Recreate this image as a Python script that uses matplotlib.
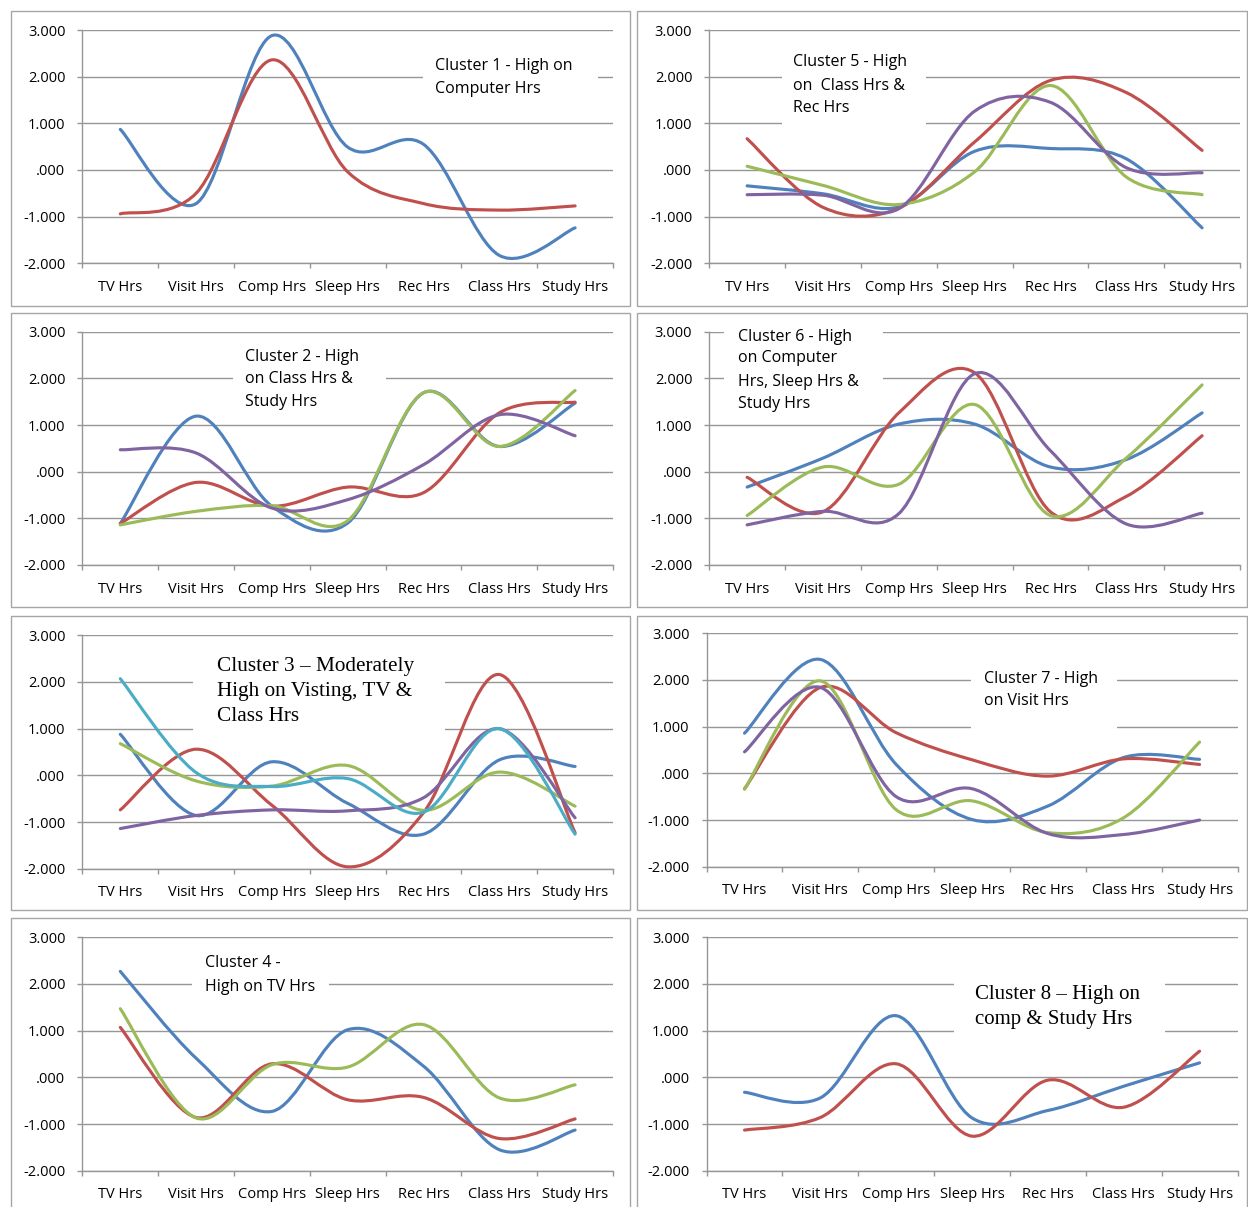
import matplotlib
matplotlib.use("Agg")
import matplotlib.pyplot as plt
from matplotlib.path import Path
from matplotlib.patches import PathPatch, Rectangle
import numpy as np

# ---------------- data ----------------
categories = ["TV Hrs", "Visit Hrs", "Comp Hrs", "Sleep Hrs", "Rec Hrs", "Class Hrs", "Study Hrs"]
y_ticks = [-2, -1, 0, 1, 2, 3]
y_tick_labels = ["-2.000", "-1.000", ".000", "1.000", "2.000", "3.000"]

c1_s1 = [0.87, -0.72, 2.88, 0.49, 0.55, -1.83, -1.24]
c1_s2 = [-0.94, -0.50, 2.36, -0.04, -0.72, -0.86, -0.77]

c2_s1 = [-1.11, 1.19, -0.74, -1.10, 1.69, 0.54, 1.47]
c2_s2 = [-1.11, -0.23, -0.74, -0.33, -0.45, 1.26, 1.49]
c2_s3 = [-1.14, -0.85, -0.73, -1.05, 1.69, 0.54, 1.74]
c2_s4 = [0.47, 0.40, -0.78, -0.60, 0.15, 1.22, 0.77]

c3_s1 = [0.88, -0.86, 0.29, -0.60, -1.26, 0.33, 0.19]
c3_s2 = [-0.74, 0.56, -0.64, -1.96, -0.80, 2.16, -1.23]
c3_s3 = [0.68, -0.12, -0.23, 0.21, -0.75, 0.07, -0.66]
c3_s4 = [-1.14, -0.86, -0.74, -0.76, -0.48, 1.00, -0.91]
c3_s5 = [2.07, 0.06, -0.24, -0.07, -0.79, 1.00, -1.26]

c4_s1 = [2.27, 0.41, -0.73, 1.02, 0.24, -1.55, -1.13]
c4_s2 = [1.07, -0.86, 0.29, -0.48, -0.43, -1.31, -0.89]
c4_s3 = [1.47, -0.87, 0.27, 0.22, 1.13, -0.44, -0.16]

c5_s1 = [-0.34, -0.51, -0.79, 0.40, 0.46, 0.24, -1.24]
c5_s2 = [0.67, -0.80, -0.82, 0.60, 1.92, 1.66, 0.42]
c5_s3 = [0.08, -0.33, -0.74, -0.04, 1.81, -0.15, -0.53]
c5_s4 = [-0.53, -0.54, -0.83, 1.26, 1.45, 0.05, -0.06]

c6_s1 = [-0.33, 0.29, 1.02, 1.02, 0.10, 0.26, 1.26]
c6_s2 = [-0.12, -0.86, 1.26, 2.12, -0.86, -0.53, 0.77]
c6_s3 = [-0.94, 0.10, -0.27, 1.44, -0.94, 0.29, 1.86]
c6_s4 = [-1.14, -0.85, -0.90, 2.10, 0.45, -1.12, -0.89]

c7_s1 = [0.86, 2.44, 0.19, -0.99, -0.70, 0.34, 0.30]
c7_s2 = [-0.33, 1.84, 0.87, 0.29, -0.06, 0.31, 0.19]
c7_s3 = [-0.34, 1.98, -0.78, -0.59, -1.27, -0.95, 0.67]
c7_s4 = [0.46, 1.84, -0.50, -0.33, -1.29, -1.31, -1.00]

c8_s1 = [-0.32, -0.44, 1.32, -0.87, -0.71, -0.19, 0.31]
c8_s2 = [-1.13, -0.86, 0.29, -1.26, -0.06, -0.64, 0.56]

# ---------------- style ----------------
BLUE, RED, GREEN, PURPLE, CYAN = "#4F81BD", "#C0504D", "#9BBB59", "#8064A2", "#4BACC6"
GRID = "#969696"
BORDER = "#A6A6A6"
SANS = ["Open Sans", "DejaVu Sans"]
SERIF = ["Liberation Serif", "DejaVu Serif"]

W, H = 1248, 1207
fig = plt.figure(figsize=(W / 100, H / 100), dpi=100)
fig.patch.set_facecolor("white")


def fx(px):
    return px / W


def fy(py):
    return 1 - py / H


def smooth_path(xs, ys):
    pts = np.column_stack([xs, ys]).astype(float)
    n = len(pts)
    verts = [pts[0]]
    codes = [Path.MOVETO]
    for i in range(n - 1):
        p0 = pts[i - 1] if i > 0 else pts[i]
        p1 = pts[i]
        p2 = pts[i + 1]
        p3 = pts[i + 2] if i + 2 < n else pts[i + 1]
        c1 = p1 + (p2 - p0) / 6.0
        c2 = p2 - (p3 - p1) / 6.0
        verts += [c1, c2, p2]
        codes += [Path.CURVE4] * 3
    return Path(verts, codes)


panels = [
    dict(border=(11, 11, 630, 306), plot=(82.4, 30, 613, 263.3),
         series=[(c1_s1, BLUE), (c1_s2, RED)],
         title=["Cluster 1 - High on", "Computer Hrs"], tx=435, tys=[70.3, 93.0],
         font=SANS, fs=11.5, box=(423, 42, 598, 110)),
    dict(border=(11, 313, 630, 607), plot=(82.4, 331.7, 613, 565),
         series=[(c2_s1, BLUE), (c2_s2, RED), (c2_s3, GREEN), (c2_s4, PURPLE)],
         title=["Cluster 2 - High", "on Class Hrs &", "Study Hrs"], tx=245, tys=[360.7, 383.3, 406.3],
         font=SANS, fs=11.5, box=(233, 338, 386, 416)),
    dict(border=(11, 616, 630, 910), plot=(82.4, 635.3, 613, 868.7),
         series=[(c3_s1, BLUE), (c3_s2, RED), (c3_s3, GREEN), (c3_s4, PURPLE), (c3_s5, CYAN)],
         title=["Cluster 3 \u2013 Moderately", "High on Visting, TV &", "Class Hrs"], tx=217, tys=[671.3, 696.3, 721.3],
         font=SERIF, fs=15.3, box=(193, 645, 445, 738)),
    dict(border=(11, 918, 630, 1215), plot=(82.4, 937.3, 613, 1170.7),
         series=[(c4_s1, BLUE), (c4_s2, RED), (c4_s3, GREEN)],
         title=["Cluster 4 -", "High on TV Hrs"], tx=204.6, tys=[967.3, 990.7],
         font=SANS, fs=11.5, box=(192, 945, 329, 1002)),
    dict(border=(637, 11, 1247, 306), plot=(709.2, 30, 1240, 263.3),
         series=[(c5_s1, BLUE), (c5_s2, RED), (c5_s3, GREEN), (c5_s4, PURPLE)],
         title=["Cluster 5 - High", "on  Class Hrs &", "Rec Hrs"], tx=793, tys=[66.3, 89.7, 112.3],
         font=SANS, fs=11.5, box=(782, 38, 926, 128)),
    dict(border=(637, 313, 1247, 607), plot=(709.2, 331.7, 1240, 565),
         series=[(c6_s1, BLUE), (c6_s2, RED), (c6_s3, GREEN), (c6_s4, PURPLE)],
         title=["Cluster 6 - High", "on Computer", "Hrs, Sleep Hrs &", "Study Hrs"], tx=737.6,
         tys=[340.7, 362.3, 385.7, 408.3],
         font=SANS, fs=11.5, box=(724, 320, 883, 416)),
    dict(border=(637, 616, 1247, 910), plot=(706.6, 633.3, 1237.5, 866.7),
         series=[(c7_s1, BLUE), (c7_s2, RED), (c7_s3, GREEN), (c7_s4, PURPLE)],
         title=["Cluster 7 - High", "on Visit Hrs"], tx=984, tys=[682.7, 705.3],
         font=SANS, fs=11.5, box=(971, 655, 1117, 732)),
    dict(border=(637, 918, 1247, 1215), plot=(706.6, 937.3, 1237.5, 1170.7),
         series=[(c8_s1, BLUE), (c8_s2, RED)],
         title=["Cluster 8 \u2013 High on", "comp & Study Hrs"], tx=975, tys=[999.0, 1024.3],
         font=SERIF, fs=15.0, box=(954, 970, 1165, 1040)),
]

xs = np.arange(len(categories))

for p in panels:
    bx0, by0, bx1, by1 = p["border"]
    fig.add_artist(Rectangle((fx(bx0), fy(by1)), (bx1 - bx0) / W, (by1 - by0) / H,
                             transform=fig.transFigure, fill=False, ec=BORDER, lw=1.0, zorder=0))
    x0, y0, x1, y1 = p["plot"]
    ax = fig.add_axes([fx(x0), fy(y1), (x1 - x0) / W, (y1 - y0) / H])
    ax.set_facecolor("none")
    ax.set_xlim(-0.5, len(categories) - 0.5)
    ax.set_ylim(-2, 3)
    ax.set_axisbelow(True)
    ax.yaxis.grid(True, color=GRID, lw=1.0, zorder=0.5)
    ax.set_yticks(y_ticks)
    ax.set_yticklabels(y_tick_labels, fontfamily=SANS, fontsize=10.5)
    ax.set_xticks(xs)
    ax.set_xticklabels(categories, fontfamily=SANS, fontsize=10.5)
    ax.set_xticks(np.arange(-0.5, len(categories)), minor=True)
    ax.tick_params(axis="x", which="major", length=0, pad=12)
    ax.tick_params(axis="x", which="minor", length=3.6, color=GRID, width=1.0, direction="out")
    ax.tick_params(axis="y", which="major", length=3.6, color=GRID, width=1.0, direction="out", pad=8.6)
    for s in ("top", "right"):
        ax.spines[s].set_visible(False)
    for s in ("left", "bottom"):
        ax.spines[s].set_color(GRID)
        ax.spines[s].set_linewidth(1.0)

    for vals, col in p["series"]:
        ax.add_patch(PathPatch(smooth_path(xs, vals), fill=False, ec=col, lw=2.25,
                               capstyle="round", joinstyle="round", zorder=3))

    bx0, by0, bx1, by1 = p["box"]
    ax.add_patch(Rectangle((fx(bx0), fy(by1)), (bx1 - bx0) / W, (by1 - by0) / H,
                           transform=fig.transFigure, fc="white", ec="none", zorder=1.5, clip_on=False))
    for line, ty in zip(p["title"], p["tys"]):
        ax.text(fx(p["tx"]), fy(ty), line, transform=fig.transFigure, ha="left", va="baseline",
                fontfamily=p["font"], fontsize=p["fs"], color="black", zorder=4)

fig.savefig("out.png", dpi=100, facecolor="white")
